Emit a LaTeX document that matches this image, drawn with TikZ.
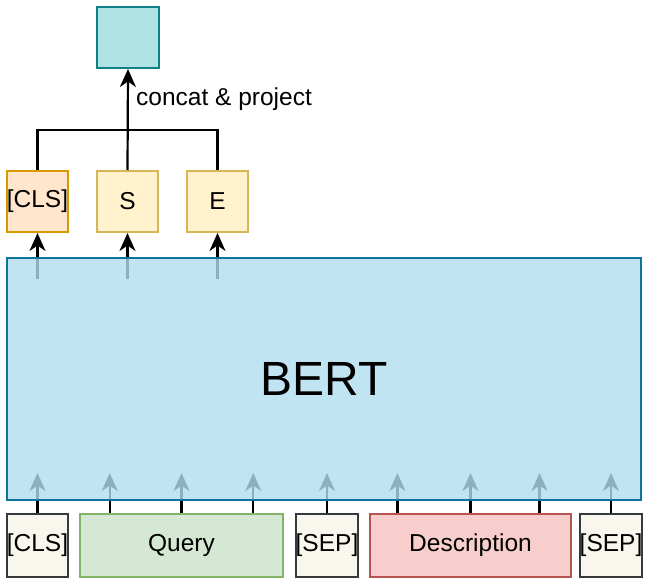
\documentclass[tikz,border=0pt]{standalone}
\usepackage{fontspec}
\setmainfont{Liberation Sans}
\usetikzlibrary{arrows.meta,calc}
\definecolor{tealF}{HTML}{B0E3E6}\definecolor{tealS}{HTML}{0E8088}
\definecolor{blueF}{HTML}{B1DDF0}\definecolor{blueS}{HTML}{10739E}
\definecolor{oranF}{HTML}{FFE6CC}\definecolor{oranS}{HTML}{D79B00}
\definecolor{yellF}{HTML}{FFF2CC}\definecolor{yellS}{HTML}{D6B656}
\definecolor{greenF}{HTML}{D5E8D4}\definecolor{greenS}{HTML}{82B366}
\definecolor{redF}{HTML}{F8CECC}\definecolor{redS}{HTML}{B85450}
\definecolor{tokF}{HTML}{F9F7ED}\definecolor{tokS}{HTML}{36393D}
\tikzset{
  box/.style={draw, line width=2pt, inner sep=0pt, font=\fontsize{24.5}{27}\selectfont},
  tok/.style={box, fill=tokF, draw=tokS, minimum width=61pt, minimum height=63pt},
  conn/.style={line width=2.2pt, black},
  arr/.style={conn, -{Stealth[length=18pt, width=16pt, inset=5.5pt]}},
}
\begin{document}
\begin{tikzpicture}[x=1pt, y=-1pt]
\useasboundingbox (0,0) rectangle (650,583);
% top output box
\node[box, fill=tealF, draw=tealS, minimum width=62pt, minimum height=61pt] (out) at (128,37.5) {};
% CLS S E
\node[box, fill=oranF, draw=oranS, minimum width=61pt, minimum height=61pt] (tcls) at (37.5,201.5) {[CLS]};
\node[box, fill=yellF, draw=yellS, minimum width=61pt, minimum height=61pt] (ts) at (127.5,201.5) {S};
\node[box, fill=yellF, draw=yellS, minimum width=61pt, minimum height=61pt] (te) at (217.5,201.5) {E};
\coordinate (bus) at (127.5,130);
\draw[conn] (tcls.north) |- (bus) -| (te.north);
\draw[arr] (ts.north) -- (out.south);
\node[anchor=west, inner sep=0pt, font=\fontsize{24.5}{27}\selectfont] (lab) at (136,99) {concat \& project};
% bottom tokens
\node[tok] (bcls) at (37.5,545.5) {[CLS]};
\node[box, fill=greenF, draw=greenS, minimum width=203pt, minimum height=63pt] (q) at (181.5,545.5) {Query};
\node[tok] (sep1) at (327,545.5) {[SEP]};
\node[box, fill=redF, draw=redS, minimum width=201pt, minimum height=63pt] (d) at (470.5,545.5) {Description};
\node[tok] (sep2) at (611,545.5) {[SEP]};
% arrows into BERT (drawn under BERT)
\draw[arr] (bcls.north) -- ++(0,-40);
\draw[arr] ($(q.north west)!0.15!(q.north east)$) -- ++(0,-40);
\draw[arr] (q.north) -- ++(0,-40);
\draw[arr] ($(q.north west)!0.85!(q.north east)$) -- ++(0,-40);
\draw[arr] (sep1.north) -- ++(0,-40);
\draw[arr] ($(d.north west)!0.14!(d.north east)$) -- ++(0,-40);
\draw[arr] (d.north) -- ++(0,-40);
\draw[arr] ($(d.north west)!0.84!(d.north east)$) -- ++(0,-40);
\draw[arr] (sep2.north) -- ++(0,-40);
% arrows out of BERT
\draw[arr] ($(tcls.south)+(0,46)$) -- (tcls.south);
\draw[arr] ($(ts.south)+(0,46)$) -- (ts.south);
\draw[arr] ($(te.south)+(0,46)$) -- (te.south);
% BERT
\node[box, fill=blueF, fill opacity=0.8, text opacity=1, draw=blueS, minimum width=634pt, minimum height=242pt, font=\fontsize{48}{52}\selectfont] (bert) at (324,379) {BERT};
\end{tikzpicture}
\end{document}
